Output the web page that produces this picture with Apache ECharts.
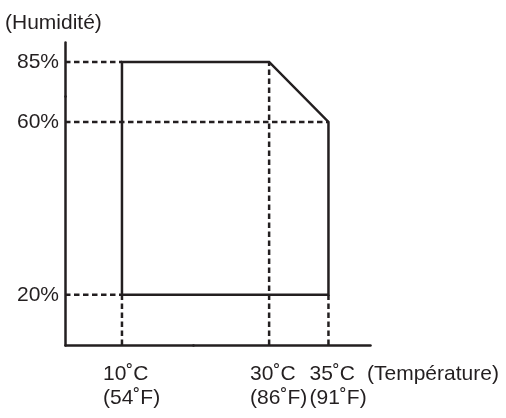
<!DOCTYPE html>
<html><head><meta charset="utf-8">
<script src="https://cdn.jsdelivr.net/npm/echarts@6/dist/echarts.min.js"></script>
<style>html,body{margin:0;padding:0;background:#fff}#c{width:506px;height:418px}</style>
</head><body><div id="c"></div>
<script>
// ---- data ----
const tempC = [10, 30, 35];
const tempF = [54, 86, 91];
const humidityTicks = [20, 60, 85];
// operating envelope vertices (temperature °C, humidity %)
const envelopeTemp = [10, 10, 30, 35, 35, 10];
const envelopeHum  = [20, 85, 85, 60, 20, 20];
// dashed guide extents
const vGuideTop = [20, 85, 20];   // humidity reached by the dashed vertical at each tempC
const hGuideEnd = [10, 35, 10];   // temperature reached by the dashed horizontal at each humidity tick

// ---- axis configuration ----
const X_MIN = 5.2, X_MAX = 38.5, Y_MIN = 8.4, Y_MAX = 89.6;
const INK = '#231f20';
const FONT = '"Liberation Sans", Arial, Helvetica, sans-serif';

function dashed(pts) {
  return {
    type: 'line', data: pts, symbol: 'none', silent: true, animation: false, z: 3,
    lineStyle: { color: INK, width: 2.5, type: [5.5, 3.5], cap: 'butt' }
  };
}
const series = [];
tempC.forEach((t, i) => series.push(dashed([[t, Y_MIN], [t, vGuideTop[i]]])));
humidityTicks.forEach((h, i) => series.push(dashed([[X_MIN, h], [hGuideEnd[i], h]])));
series.push({
  type: 'line', symbol: 'none', silent: true, animation: false, z: 5,
  data: envelopeTemp.map((t, i) => [t, envelopeHum[i]]),
  lineStyle: { color: INK, width: 2.5, join: 'miter', cap: 'square' }
});

const chart = echarts.init(document.getElementById('c'), null, { renderer: 'canvas' });
chart.setOption({
  animation: false,
  backgroundColor: '#fff',
  grid: { left: 65, right: 136, top: 42, bottom: 73, containLabel: false, outerBoundsMode: 'none' },
  xAxis: {
    type: 'value', min: X_MIN, max: X_MAX,
    breaks: [{ start: 16, end: 23.6, gap: 0 }],
    breakArea: { show: false },
    axisLine: { show: true, onZero: false, lineStyle: { color: INK, width: 2.5 } },
    axisTick: { show: false },
    splitLine: { show: false },
    axisLabel: {
      customValues: tempC,
      formatter: v => { const i = tempC.indexOf(v); return v + '˚C\n(' + tempF[i] + '˚F)'; },
      align: 'left', padding: [0, 0, 0, -19], margin: 17, lineHeight: 24,
      fontSize: 21, color: INK, fontFamily: FONT
    },
    name: '(Température)', nameLocation: 'end', nameGap: -3, nameMoveOverlap: false,
    nameTextStyle: { fontSize: 21, color: INK, fontFamily: FONT, align: 'left', verticalAlign: 'top', lineHeight: 24, padding: [17, 0, 0, 0] }
  },
  yAxis: {
    type: 'value', min: Y_MIN, max: Y_MAX,
    breaks: [{ start: 66, end: 77.1, gap: 0 }],
    breakArea: { show: false },
    axisLine: { show: true, onZero: false, lineStyle: { color: INK, width: 2.5 } },
    axisTick: { show: false },
    splitLine: { show: false },
    axisLabel: {
      customValues: humidityTicks,
      formatter: v => v + '%',
      margin: 6, fontSize: 21, color: INK, fontFamily: FONT
    },
    name: '(Humidité)', nameLocation: 'end', nameGap: 19, nameMoveOverlap: false,
    nameTextStyle: { fontSize: 21, color: INK, fontFamily: FONT, align: 'left', verticalAlign: 'middle', padding: [0, 0, 0, -60] }
  },
  series: series
});
</script>
</body></html>
